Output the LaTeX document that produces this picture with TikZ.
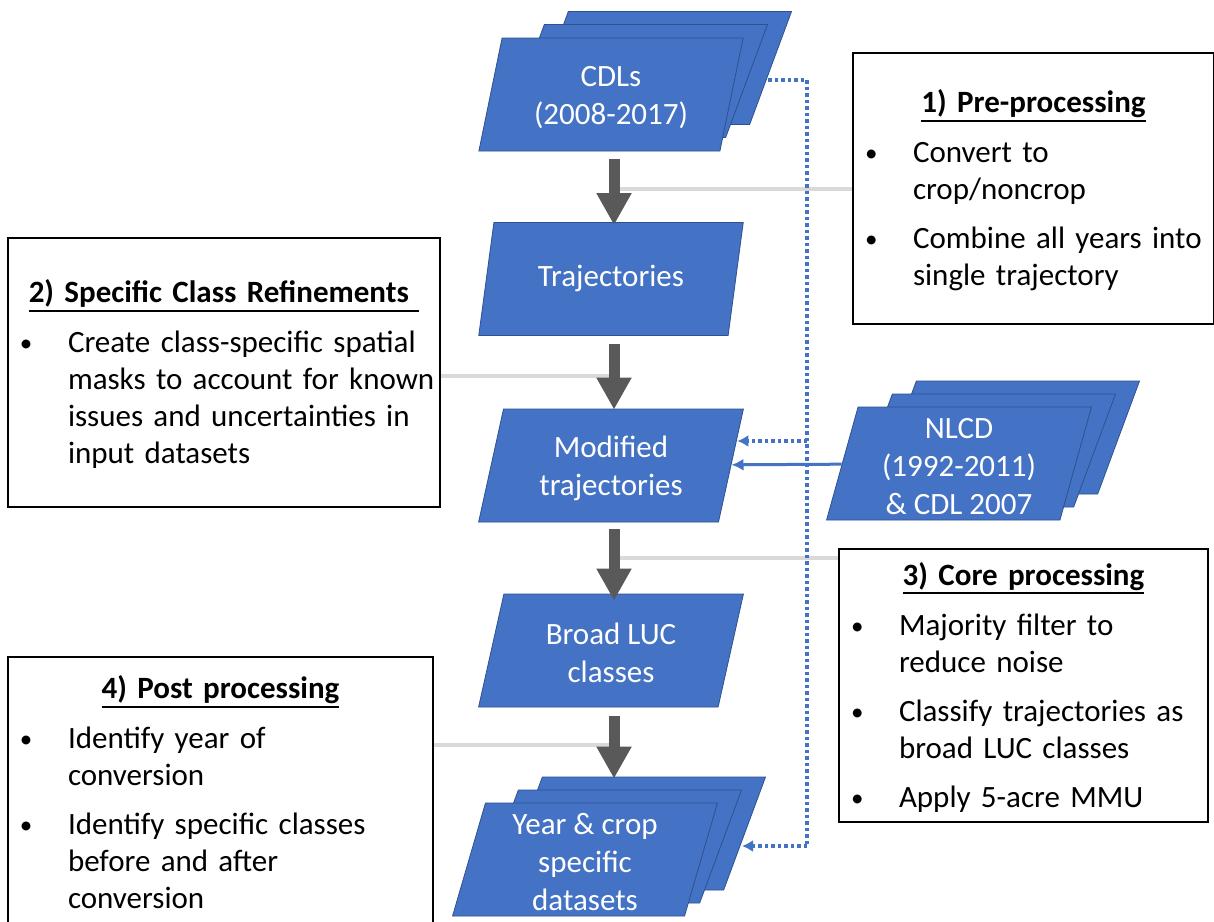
\documentclass[tikz,border=0pt]{standalone}
\usepackage{fontspec}
\setmainfont{Carlito}
\usetikzlibrary{shapes.geometric,arrows.meta}
\definecolor{offblue}{HTML}{4472C4}
\definecolor{edgeblue}{HTML}{2F528F}
\definecolor{arrowgray}{HTML}{595959}
\definecolor{linkgray}{HTML}{D9D9D9}
% underlined bold heading and bullet item
\newcommand\ttl[1]{\setbox0\hbox{\bfseries#1}\rule{0pt}{33pt}\rlap{\rule[-9pt]{\wd0}{2pt}}\box0}
\newcommand\bul[1]{\noindent\makebox[45pt][l]{\hspace{-3pt}\raisebox{1pt}{\fontsize{25}{25}\selectfont\textbullet}}\begin{tabular}[t]{@{}l@{}}#1\end{tabular}}
\tikzset{
  data/.style={trapezium, trapezium left angle=77, trapezium right angle=103,
    trapezium stretches=true, minimum width=265pt, minimum height=113pt,
    inner sep=2pt, fill=offblue, draw=edgeblue, line width=0.8pt,
    text=white, align=center, font=\fontsize{31}{38}\selectfont},
  note/.style={draw=black, line width=2pt, fill=white, anchor=north west,
    inner xsep=15pt, inner ysep=0pt, align=left, font=\fontsize{31}{37}\selectfont},
  flow/.style={arrowgray, line width=11pt, -{Triangle[width=33pt,length=32pt]}},
  link/.style={linkgray, line width=4pt},
  dotline/.style={offblue, line width=3.5pt, dash pattern=on 3.5pt off 3pt},
  dotarrow/.style={dotline, -{Latex[length=11pt,width=12pt]}},
  feed/.style={offblue, line width=3pt, -{Latex[length=12pt,width=12pt]}}
}
\begin{document}
\begin{tikzpicture}[x=1pt,y=-1pt]
\fill[white] (0,0) rectangle (1214,921);
\useasboundingbox (0,0) rectangle (1214,921);

% text boxes
\node[note, minimum width=361pt, minimum height=271pt, text width=331pt] (pre) at (852,52)
  {{\centering\ttl{1) Pre-processing}\par}\vspace{13pt}
   \bul{Convert to\\crop/noncrop}\par\vspace{11pt}
   \bul{Combine all years into\\single trajectory}};
\node[note, minimum width=432pt, minimum height=269pt, text width=402pt] (refine) at (7,237)
  {{\centering\ttl{2) Specific Class Refinements\ }\par}\vspace{13pt}
   \bul{Create class-specific spatial\\masks to account for known\\issues and uncertainties in\\input datasets}};
\node[note, minimum width=369pt, minimum height=273pt, text width=339pt] (core) at (838,548)
  {{\centering\ttl{3) Core processing}\par}\vspace{13pt}
   \bul{Majority filter to\\reduce noise}\par\vspace{11pt}
   \bul{Classify trajectories as\\broad LUC classes}\par\vspace{11pt}
   \bul{Apply 5-acre MMU}};
\node[note, minimum width=425pt, minimum height=272pt, text width=395pt] (post) at (7,656)
  {{\centering\ttl{4) Post processing}\par}\vspace{13pt}
   \bul{Identify year of\\conversion}\par\vspace{11pt}
   \bul{Identify specific classes\\before and after\\conversion}};

% gray links to the flow
\coordinate (axis) at (614,0);
\coordinate (j1) at (614,189);
\coordinate (j2) at (614,376);
\coordinate (j3) at (614,558);
\coordinate (j4) at (614,745);
\draw[link] (j1) -- (j1 -| pre.west);
\draw[link] (j2) -- (j2 -| refine.east);
\draw[link] (j3) -- (j3 -| core.west);
\draw[link] (j4) -- (j4 -| post.east);

% data sets
\node[data] (cdlb) at (659,68) {};
\node[data] (cdlm) at (635,81) {};
\node[data] (cdl) at (611,94.5) {\strut CDLs\\(2008-2017)};
\node[data] (traj) at (611,279) {\strut Trajectories};
\node[data] (mod) at (611,465.5) {\strut Modified\\trajectories};
\node[data] (broad) at (611,650.5) {\strut Broad LUC\\classes};
\node[data] (nlcdb) at (1007,437.5) {};
\node[data] (nlcdm) at (983,450.5) {};
\node[data] (nlcd) at (959,463.5) {\strut NLCD\\(1992-2011)\\\& CDL 2007};
\node[data] (yearb) at (633,833.5) {};
\node[data] (yearm) at (609,846.5) {};
\node[data] (year) at (585,859.5) {\strut Year \& crop\\specific\\datasets};

% flow arrows
\draw[flow] ([yshift=-8pt]cdl.south -| axis) -- ([yshift=-3pt]traj.north -| axis);
\draw[flow] ([yshift=-8pt]traj.south -| axis) -- ([yshift=-1pt]mod.north -| axis);
\draw[flow] ([yshift=-7pt]mod.south -| axis) -- ([yshift=-7pt]broad.north -| axis);
\draw[flow] ([yshift=-9pt]broad.south -| axis) -- ([yshift=-2pt]yearb.north -| axis);

% dotted feedback and NLCD input
\coordinate (dmod) at (807,441);
\coordinate (dbot) at (807,846);
\draw[dotline] ([xshift=-3pt,yshift=-12pt]cdlb.east) -| (dbot);
\draw[dotarrow] (dbot) -- ([xshift=-3pt]dbot -| yearb.east);
\draw[dotarrow] (dmod) -- ([xshift=6pt]dmod -| mod.east);
\draw[feed] (nlcd) -- (mod);
\end{tikzpicture}
\end{document}
